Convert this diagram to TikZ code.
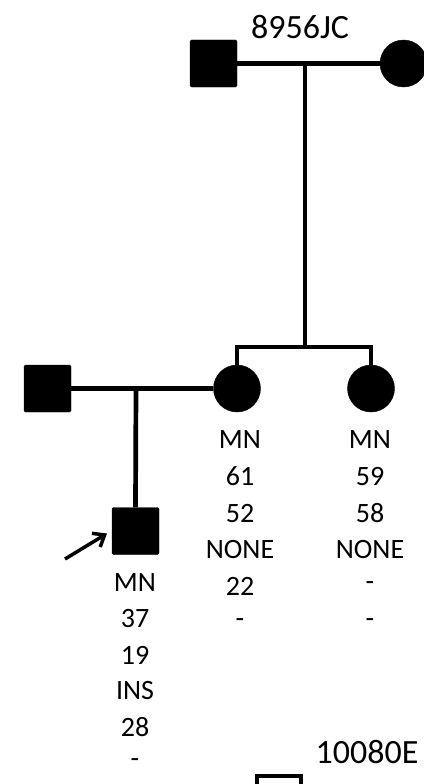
\documentclass[tikz,border=0pt]{standalone}
\usepackage{fontspec}
\setmainfont{Carlito}
\usetikzlibrary{positioning,arrows.meta}
\tikzset{
  male/.style={rectangle, fill=black, draw=black, minimum size=47pt, inner sep=0pt, rounded corners=1.5pt},
  female/.style={circle, fill=black, draw=black, minimum size=47pt, inner sep=0pt},
  unknown/.style={rectangle, draw=black, line width=4pt, minimum size=44pt, inner sep=0pt},
  famid/.style={font=\fontsize{34}{40}\selectfont, inner sep=0pt},
  info/.style={font=\fontsize{28}{34}\selectfont, inner sep=0pt},
  link/.style={line width=4.7pt}
}
\begin{document}
\begin{tikzpicture}[x=1pt,y=-1pt]
  \useasboundingbox (0,0) rectangle (423,784);
  % family 8956JC
  \node[famid] (fam1) at (300,27) {8956JC};
  \node[male] (gf) at (213.5,63.5) {};
  \node[female] (gm) at (403.5,63.5) {};
  \node[female] (mo) at (237,388.5) {};
  \node[female] (au) at (371,388.5) {};
  \node[male] (fa) at (47.5,388.5) {};
  \node[male] (pb) at (135.5,531) {};
  \coordinate (m1) at (305,63.5);
  \coordinate (s1) at (305,347);
  \coordinate (m2) at (136,388.5);
  \draw[link] (gf) -- (gm);
  \draw[link] (m1) -- (s1);
  \draw[link] (mo.north) |- (s1) -| (au.north);
  \draw[link] (fa) -- (mo);
  \draw[link] (m2) -- (pb.north);
  % proband arrow
  \coordinate (pa) at (65,559);
  \draw[line width=3.5pt, -{Straight Barb[length=10pt,width=16pt]}] (pa) -- (107,533.5);
  % marker data
  \foreach \t [count=\i] in {MN,61,52,NONE,22,-}
    \node[info] (mo\i) at (240,{440+36.6*(\i-1)}) {\t};
  \foreach \t [count=\i] in {MN,59,58,NONE,-,-}
    \node[info] (au\i) at (370,{440+36.6*(\i-1)}) {\t};
  \foreach \t [count=\i] in {MN,37,19,INS,28,-}
    \node[info] (pb\i) at (135,{583+36*(\i-1)}) {\t};
  % family 10080E
  \node[famid] (fam2) at (367,752) {10080E};
  \node[unknown] (nx) at (279,798) {};
\end{tikzpicture}
\end{document}
